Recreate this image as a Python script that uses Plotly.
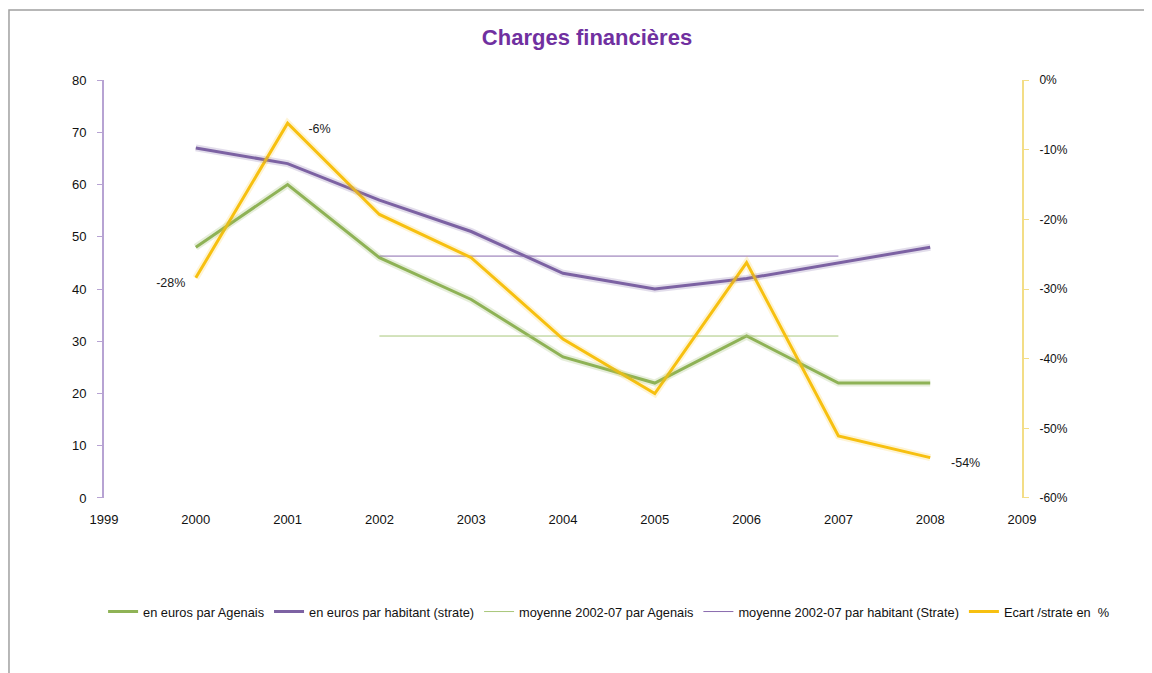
import plotly.graph_objects as go

# data
years = [2000, 2001, 2002, 2003, 2004, 2005, 2006, 2007, 2008]
agenais = [48, 60, 46, 38, 27, 22, 31, 22, 22]
strate = [67, 64, 57, 51, 43, 40, 42, 45, 48]
avg_years = [2002, 2007]
avg_agenais = [31, 31]
avg_strate = [46.3, 46.3]
ecart = [-28.4, -6.2, -19.3, -25.5, -37.2, -45.0, -26.2, -51.1, -54.2]
ecart_labels = ["-28%   ", "      -6%", "", "", "", "", "", "", "      -54%"]
ecart_label_pos = ["bottom left", "bottom right", "top center", "top center", "top center",
                   "top center", "top center", "top center", "bottom right"]
pct_ticks = [0, -10, -20, -30, -40, -50, -60]
pct_ticktext = ["0%", "-10%", "-20%", "-30%", "-40%", "-50%", "-60%"]

GREEN = "#8FB356"
PURPLE = "#7D62A3"
YELLOW = "#F7C010"
FONT = "Liberation Sans"

fig = go.Figure()

# soft drop shadows, drawn on hidden axes shifted a few pixels down
for x, y, col, ax in [
    (years, strate, "rgba(125,98,163,0.22)", "y3"),
    (years, agenais, "rgba(143,179,86,0.22)", "y3"),
    (years, ecart, "rgba(247,192,16,0.18)", "y4"),
]:
    fig.add_trace(go.Scatter(x=x, y=y, mode="lines", yaxis=ax, showlegend=False,
                             hoverinfo="skip", line=dict(color=col, width=7)))

fig.add_trace(go.Scatter(x=years, y=agenais, mode="lines", name="en euros par Agenais",
                         line=dict(color=GREEN, width=3)))
fig.add_trace(go.Scatter(x=years, y=strate, mode="lines", name="en euros par habitant (strate)",
                         line=dict(color=PURPLE, width=3)))
fig.add_trace(go.Scatter(x=avg_years, y=avg_agenais, mode="lines", name="moyenne 2002-07 par Agenais",
                         line=dict(color="#A9C77A", width=1)))
fig.add_trace(go.Scatter(x=avg_years, y=avg_strate, mode="lines",
                         name="moyenne 2002-07 par habitant (Strate)",
                         line=dict(color="#8A6BAE", width=1)))
fig.add_trace(go.Scatter(x=years, y=ecart, mode="lines+text", name="Ecart /strate en  %",
                         yaxis="y2", text=ecart_labels, textposition=ecart_label_pos,
                         textfont=dict(family=FONT, size=12.5, color="#1A1A1A"),
                         line=dict(color=YELLOW, width=3)))

# the page body adds an 8px offset, margins compensate for it
d = 0.0095
fig.update_layout(
    width=1152, height=673,
    paper_bgcolor="white", plot_bgcolor="white",
    font=dict(family=FONT, size=13, color="#111111"),
    margin=dict(l=96, r=138, t=72, b=179),
    title=dict(text="<b>Charges financières</b>", x=0.5026, xanchor="center",
               y=0.957, yanchor="middle",
               font=dict(family=FONT, size=22, color="#7030A0")),
    xaxis=dict(range=[1999, 2009], dtick=1, showgrid=False, zeroline=False, showline=False,
               ticks="", ticklabelstandoff=12, tickfont=dict(size=13)),
    yaxis=dict(range=[0, 80], dtick=10, domain=[d, 1], showgrid=False, zeroline=False,
               showline=True, linecolor="#B7A3D3", linewidth=2, ticks="outside",
               ticklen=5, tickcolor="#B7A3D3", ticklabelstandoff=8, tickfont=dict(size=13)),
    yaxis2=dict(range=[-60, 0], tickvals=pct_ticks, ticktext=pct_ticktext, domain=[d, 1],
                overlaying="y", side="right", showgrid=False, zeroline=False, showline=True,
                linecolor="#F3DD86", linewidth=2, ticks="outside", ticklen=5,
                tickcolor="#F3DD86", ticklabelstandoff=8, tickfont=dict(size=12)),
    yaxis3=dict(range=[0, 80], domain=[0, 1 - d], overlaying="y", visible=False),
    yaxis4=dict(range=[-60, 0], domain=[0, 1 - d], overlaying="y", visible=False),
    legend=dict(orientation="h", x=-0.001, xanchor="left", y=-0.26, yanchor="middle",
                font=dict(family=FONT, size=12.8, color="#111111"), itemwidth=30,
                tracegroupgap=0),
    showlegend=True,
)

# thin grey frame around the chart area
fig.add_shape(type="rect", xref="paper", yref="paper",
              x0=-0.1035, x1=1.2, y0=-0.5, y1=1.166,
              line=dict(color="#A0A0A0", width=1.5))

fig.write_html("out.html")
